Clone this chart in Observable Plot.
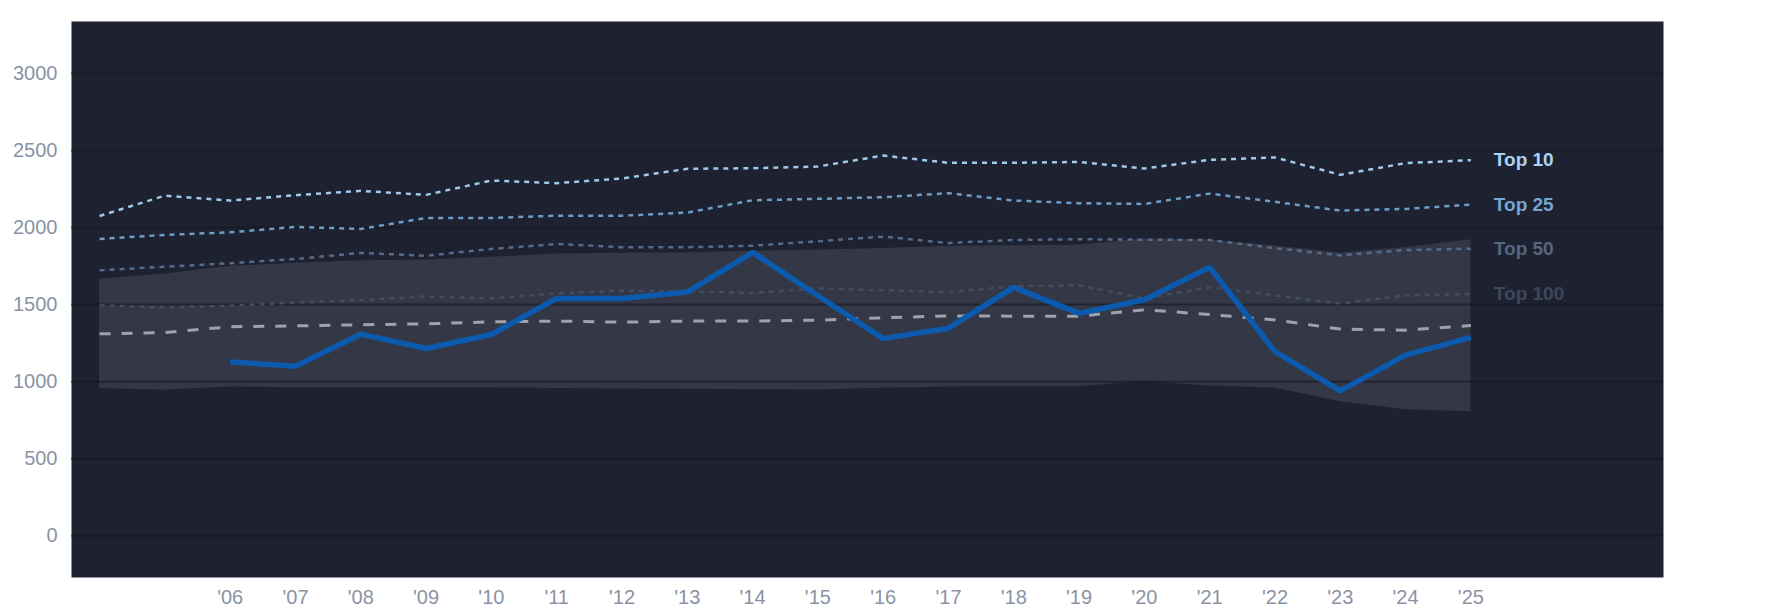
<!DOCTYPE html>
<html>
<head>
<meta charset="utf-8">
<script src="https://cdn.jsdelivr.net/npm/d3@7"></script>
<script src="https://cdn.jsdelivr.net/npm/@observablehq/plot@0.6"></script>
<style>
  html, body { margin: 0; padding: 0; background: #ffffff; }
  #chart svg { display: block; }
</style>
</head>
<body>
<div id="chart"></div>
<script>
const years    = [2004,2005,2006,2007,2008,2009,2010,2011,2012,2013,2014,2015,2016,2017,2018,2019,2020,2021,2022,2023,2024,2025];
const top10    = [2075,2207,2175,2210,2238,2212,2305,2288,2318,2381,2385,2396,2467,2420,2420,2426,2383,2439,2455,2342,2418,2437];
const top25    = [1926,1952,1969,2004,1991,2062,2062,2077,2077,2097,2177,2186,2197,2223,2175,2158,2153,2220,2167,2110,2121,2149];
const top50    = [1722,1746,1768,1796,1835,1817,1861,1893,1872,1872,1882,1911,1941,1900,1919,1924,1921,1919,1866,1820,1854,1863];
const top100   = [1495,1482,1492,1514,1529,1553,1540,1573,1590,1585,1575,1605,1593,1579,1618,1625,1540,1612,1560,1507,1560,1568];
const median   = [1310,1319,1356,1362,1369,1375,1388,1393,1386,1393,1393,1399,1414,1427,1425,1425,1466,1436,1400,1341,1334,1364];
const team     = [null,null,1128,1100,1308,1215,1306,1540,1540,1581,1839,1557,1279,1347,1612,1443,1531,1742,1195,940,1172,1287];
const bandHigh = [1664,1698,1748,1768,1785,1789,1807,1828,1833,1837,1846,1854,1864,1878,1882,1887,1926,1919,1880,1835,1870,1920];
const bandLow  = [955,944,966,961,959,959,959,955,953,951,948,946,957,966,968,968,1000,972,959,870,818,805];

const xTickYears = [2006,2007,2008,2009,2010,2011,2012,2013,2014,2015,2016,2017,2018,2019,2020,2021,2022,2023,2024,2025];
const yTicks = [0,500,1000,1500,2000,2500,3000];

const seriesNames  = ["Top 10","Top 25","Top 50","Top 100"];
const seriesValues = [top10, top25, top50, top100];
const lineColors   = ["#9fcaeb","#6e9dc8","#566a89","#414d64"];
const labelColors  = ["#a9d3f5","#74a6d4","#566680","#3d4759"];

const rows = years.map((year, i) => ({year, team: team[i], median: median[i], lo: bandLow[i], hi: bandHigh[i]}));
const tiers = seriesNames.map((name, k) => years.map((year, i) => ({year, value: seriesValues[k][i], name})));
const lastLabels = seriesNames.map((name, k) => ({name, year: years[years.length - 1], value: seriesValues[k][years.length - 1], color: labelColors[k]}));

const font = "'Liberation Sans', Arial, Helvetica, sans-serif";

const chart = Plot.plot({
  width: 1785,
  height: 614,
  marginLeft: 71,
  marginRight: 122,
  marginTop: 21,
  marginBottom: 37,
  style: {fontFamily: font, background: "#ffffff", overflow: "visible"},
  x: {domain: [2003.57, 2027.95]},
  y: {domain: [-271, 3337]},
  marks: [
    Plot.frame({fill: "#1d2130", stroke: null}),
    Plot.areaY(rows, {x: "year", y1: "lo", y2: "hi", fill: "#ffffff", fillOpacity: 0.1}),
    Plot.gridY(yTicks, {stroke: "#12151d", strokeOpacity: 0.55, strokeWidth: 2}),
    ...tiers.map((data, k) => Plot.line(data, {
      x: "year", y: "value", stroke: lineColors[k], strokeWidth: 2.5,
      strokeDasharray: "5,5", strokeLinecap: "butt", strokeLinejoin: "miter"
    })),
    Plot.line(rows, {x: "year", y: "median", stroke: "#9ea2ab", strokeWidth: 3,
      strokeDasharray: "11,11", strokeLinecap: "butt", strokeLinejoin: "miter"}),
    Plot.line(rows.filter(d => d.team != null), {x: "year", y: "team", stroke: "#0b5aad", strokeWidth: 5.5,
      strokeLinecap: "butt", strokeLinejoin: "miter"}),
    Plot.text(lastLabels, {x: "year", y: "value", text: "name", fill: "color", dx: 23,
      textAnchor: "start", fontWeight: "bold", fontSize: 19, fontFamily: font}),
    Plot.axisY(yTicks, {tickSize: 0, tickPadding: 14, fontSize: 20, fill: "#8a93a5", label: null,
      tickFormat: d => String(d), fontFamily: font}),
    Plot.axisX(xTickYears, {tickSize: 0, tickPadding: 12, fontSize: 20, fill: "#8a93a5", label: null,
      tickFormat: d => "'" + String(d).slice(2), fontFamily: font})
  ]
});
document.getElementById("chart").appendChild(chart);
</script>
</body>
</html>
